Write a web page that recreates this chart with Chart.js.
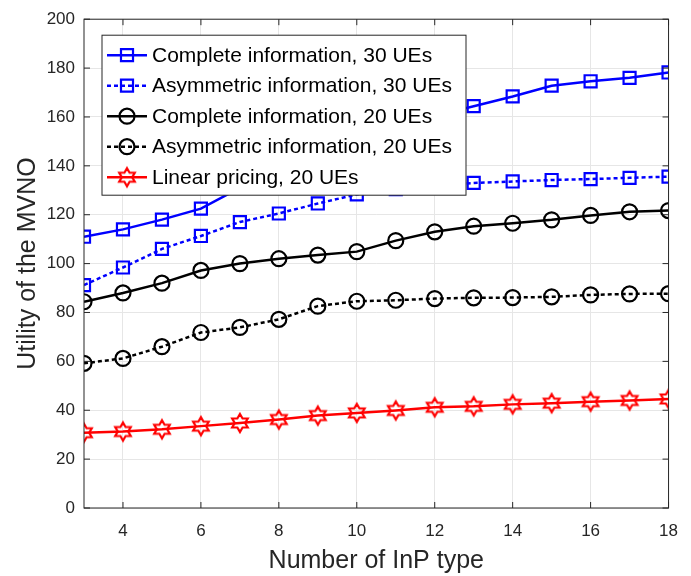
<!DOCTYPE html>
<html>
<head>
<meta charset="utf-8">
<script src="https://cdn.jsdelivr.net/npm/chart.js@4.4.1/dist/chart.umd.min.js"></script>
<style>
  html, body { margin: 0; padding: 0; background: #fff; }
  #wrap { width: 691px; height: 576px; }
</style>
</head>
<body>
<div id="wrap"><canvas id="chart1"></canvas></div>
<script>
const inpTypes     = [3, 4, 5, 6, 7, 8, 9, 10, 11, 12, 13, 14, 15, 16, 17, 18];
const complete30   = [111, 114, 118, 122.5, 131, 138, 145, 151, 156, 160.5, 164.4, 168.4, 172.8, 174.6, 176, 178.2];
const asym30       = [91.2, 98.4, 106, 111.3, 117, 120.5, 124.6, 128.3, 130.5, 132, 133, 133.6, 134.2, 134.6, 135.1, 135.6];
const complete20   = [84.4, 88, 92, 97.2, 100, 102, 103.5, 104.9, 109.4, 113, 115.3, 116.5, 117.9, 119.7, 121.2, 121.7];
const asym20       = [59.2, 61.2, 66, 71.8, 73.9, 77.2, 82.6, 84.6, 85, 85.7, 86, 86.1, 86.4, 87.2, 87.6, 87.7];
const linear20     = [30.8, 31.3, 32.2, 33.5, 34.8, 36.2, 37.8, 38.9, 39.9, 41.2, 41.6, 42.4, 42.9, 43.5, 44, 44.6];
const seriesNames  = ['Complete information, 30 UEs', 'Asymmetric information, 30 UEs',
                      'Complete information, 20 UEs', 'Asymmetric information, 20 UEs',
                      'Linear pricing, 20 UEs'];

const FONT = '"Liberation Sans", Arial, Helvetica, sans-serif';
const AXIS_COLOR = '#262626';

// hexagram marker (MATLAB 'h')
function makeHexagram(color, r) {
    const size = Math.ceil(r * 2 + 6);
    const c = document.createElement('canvas');
    c.width = size; c.height = size;
    const g = c.getContext('2d');
    const cx = size / 2, cy = size / 2;
    g.strokeStyle = color;
    g.lineWidth = 2.2;
    g.lineJoin = 'miter';
    g.beginPath();
    for (let i = 0; i < 12; i++) {
        const ang = -Math.PI / 2 + i * Math.PI / 6;
        const rad = (i % 2 === 0) ? r : r * 0.577;
        const px = cx + rad * Math.cos(ang), py = cy + rad * Math.sin(ang);
        if (i === 0) g.moveTo(px, py); else g.lineTo(px, py);
    }
    g.closePath();
    g.stroke();
    return c;
}
const hexRed = makeHexagram('#ff0000', 9);

function toPoints(values) {
    return inpTypes.map((x, i) => ({ x: x, y: values[i] }));
}

function series(label, values, color, style, radius, dashed) {
    return {
        label: label,
        data: toPoints(values),
        borderColor: color,
        borderWidth: 2.5,
        borderDash: dashed ? [4, 3] : [],
        pointStyle: style,
        pointRadius: radius,
        pointHoverRadius: radius,
        pointBorderColor: color,
        pointBackgroundColor: 'rgba(0,0,0,0)',
        pointBorderWidth: 2.2,
        fill: false,
        tension: 0
    };
}

const datasets = [
    series(seriesNames[0], complete30, '#0000ff', 'rect', 8.5, false),
    series(seriesNames[1], asym30, '#0000ff', 'rect', 8.5, true),
    series(seriesNames[2], complete20, '#000000', 'circle', 7.5, false),
    series(seriesNames[3], asym20, '#000000', 'circle', 7.5, true),
    series(seriesNames[4], linear20, '#ff0000', hexRed, 9, false)
];

// box and inward ticks, like MATLAB axes
const boxPlugin = {
    id: 'boxPlugin',
    afterDraw(chart) {
        const { ctx, chartArea: a, scales } = chart;
        ctx.save();
        ctx.strokeStyle = AXIS_COLOR;
        ctx.lineWidth = 1;
        ctx.setLineDash([]);
        ctx.strokeRect(a.left, a.top, a.right - a.left, a.bottom - a.top);
        const len = 6;
        ctx.beginPath();
        scales.x.ticks.forEach(t => {
            const px = scales.x.getPixelForValue(t.value);
            ctx.moveTo(px, a.bottom); ctx.lineTo(px, a.bottom - len);
            ctx.moveTo(px, a.top); ctx.lineTo(px, a.top + len);
        });
        scales.y.ticks.forEach(t => {
            const py = scales.y.getPixelForValue(t.value);
            ctx.moveTo(a.left, py); ctx.lineTo(a.left + len, py);
            ctx.moveTo(a.right, py); ctx.lineTo(a.right - len, py);
        });
        ctx.stroke();
        ctx.restore();
    }
};

// legend box drawn inside the plot, upper left
const legendPlugin = {
    id: 'insideLegend',
    afterDatasetsDraw(chart) {
        const { ctx, chartArea: a } = chart;
        const x0 = a.left + 18, y0 = a.top + 16, w = 364, h = 160;
        const rowH = 30.5;
        ctx.save();
        ctx.fillStyle = '#ffffff';
        ctx.fillRect(x0, y0, w, h);
        ctx.strokeStyle = AXIS_COLOR;
        ctx.lineWidth = 1;
        ctx.strokeRect(x0, y0, w, h);
        chart.data.datasets.forEach((ds, i) => {
            const cy = y0 + 20 + i * rowH;
            ctx.strokeStyle = ds.borderColor;
            ctx.lineWidth = ds.borderWidth;
            ctx.setLineDash(ds.borderDash);
            ctx.beginPath();
            ctx.moveTo(x0 + 5, cy);
            ctx.lineTo(x0 + 45, cy);
            ctx.stroke();
            ctx.setLineDash([]);
            ctx.lineWidth = ds.pointBorderWidth;
            ctx.strokeStyle = ds.pointBorderColor;
            ctx.fillStyle = 'rgba(0,0,0,0)';
            Chart.helpers.drawPoint(ctx, {
                pointStyle: ds.pointStyle,
                radius: ds.pointRadius,
                rotation: 0,
                borderWidth: ds.pointBorderWidth
            }, x0 + 25, cy);
            ctx.fillStyle = '#000000';
            ctx.font = '21px ' + FONT;
            ctx.textBaseline = 'middle';
            ctx.textAlign = 'left';
            ctx.fillText(ds.label, x0 + 50, cy + 1);
        });
        ctx.restore();
    }
};

new Chart(document.getElementById('chart1'), {
    type: 'line',
    data: { datasets: datasets },
    plugins: [legendPlugin, boxPlugin],
    options: {
        responsive: true,
        maintainAspectRatio: false,
        animation: false,
        layout: { padding: { left: 0, right: 21, top: 17, bottom: 0 } },
        plugins: {
            legend: { display: false },
            tooltip: { enabled: false }
        },
        scales: {
            x: {
                type: 'linear',
                min: 3,
                max: 18,
                afterFit: s => { s.height = 68; },
                ticks: {
                    stepSize: 2,
                    includeBounds: false,
                    color: AXIS_COLOR,
                    font: { size: 17, family: FONT },
                    padding: 13,
                    maxRotation: 0
                },
                grid: { color: '#e6e6e6', drawTicks: false, lineWidth: 1 },
                border: { display: false },
                title: {
                    display: true,
                    text: 'Number of InP type',
                    color: AXIS_COLOR,
                    font: { size: 25, family: FONT },
                    padding: { top: 0, bottom: 0 }
                }
            },
            y: {
                min: 0,
                max: 200,
                afterFit: s => { s.width = 84; },
                ticks: {
                    stepSize: 20,
                    color: AXIS_COLOR,
                    font: { size: 17, family: FONT },
                    padding: 9
                },
                grid: { color: '#e6e6e6', drawTicks: false, lineWidth: 1 },
                border: { display: false },
                title: {
                    display: true,
                    text: 'Utility of the MVNO',
                    color: AXIS_COLOR,
                    font: { size: 25, family: FONT },
                    padding: { top: 13, bottom: 0 }
                }
            }
        }
    }
});
</script>
</body>
</html>
